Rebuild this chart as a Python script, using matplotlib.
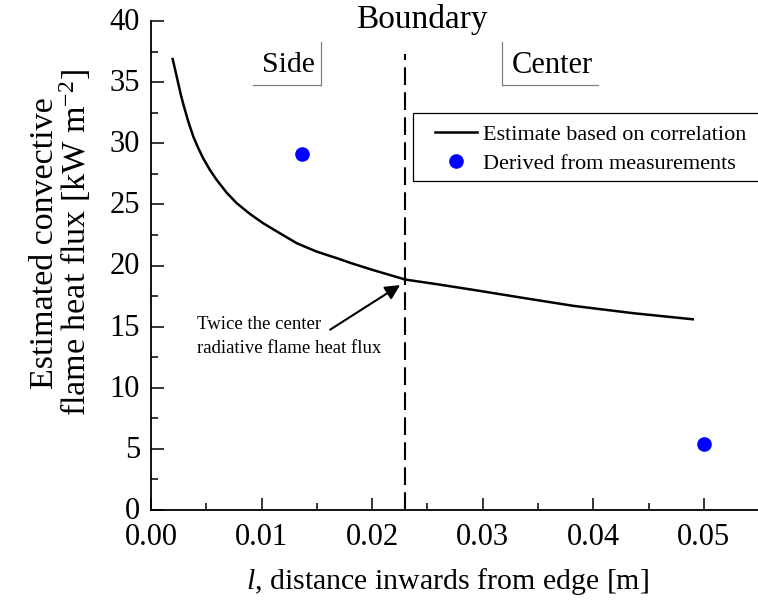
import numpy as np
import matplotlib
matplotlib.use("Agg")
import matplotlib.pyplot as plt
import matplotlib.transforms as mtransforms
from matplotlib.ticker import MultipleLocator
from matplotlib.lines import Line2D
from matplotlib.patches import Rectangle

plt.rcParams['font.family'] = ['Liberation Serif', 'DejaVu Serif']
plt.rcParams['mathtext.fontset'] = 'custom'
plt.rcParams['mathtext.rm'] = 'Liberation Serif'
plt.rcParams['mathtext.it'] = 'Liberation Serif:italic'

# estimate based on correlation
corr_l = [0.00196, 0.00233, 0.00269, 0.00292, 0.00338, 0.00383, 0.00428, 0.00473,
          0.00534, 0.00595, 0.00685, 0.00776, 0.00896, 0.01016, 0.01167, 0.01319,
          0.01500, 0.01681, 0.01801, 0.0200, 0.0230, 0.0260, 0.0292, 0.0340,
          0.0382, 0.0436, 0.0490]
corr_q = [36.89, 35.44, 34.00, 33.20, 31.75, 30.54, 29.59, 28.75,
          27.80, 26.99, 25.95, 25.09, 24.21, 23.45, 22.63, 21.82,
          21.13, 20.60, 20.22, 19.65, 18.85, 18.45, 18.00, 17.30,
          16.70, 16.10, 15.60]

# derived from measurements
meas_l = [0.01364, 0.0500]
meas_q = [29.1, 5.4]

boundary_l = 0.023

fig = plt.figure(figsize=(7.58, 6.01), dpi=100)
ax = fig.add_axes([151 / 758, 91 / 601, 1 - 151 / 758, 489 / 601])

ax.plot(corr_l, corr_q, color='black', lw=1.8, label='Estimate based on correlation')
ax.plot(meas_l, meas_q, 'o', color='blue', ms=9.5, label='Derived from measurements')
ax.plot([boundary_l, boundary_l], [0, 37.3], color='black', lw=1.5, dashes=(8.5, 3.5))

ax.set_xlim(0, 0.0549)
ax.set_ylim(0, 40)
ax.xaxis.set_major_locator(MultipleLocator(0.01))
ax.xaxis.set_minor_locator(MultipleLocator(0.005))
ax.yaxis.set_major_locator(MultipleLocator(5))
ax.yaxis.set_minor_locator(MultipleLocator(2.5))
ax.xaxis.set_major_formatter(lambda v, p: f'{v:.2f}')
ax.tick_params(which='both', direction='in', width=1.1, labelsize=22)
ax.tick_params(which='major', length=9)
ax.tick_params(which='minor', length=5)
ax.tick_params(axis='y', which='major', pad=8)
ax.tick_params(axis='x', which='major', pad=9.5)
for s in ['top', 'right']:
    ax.spines[s].set_visible(False)
for s in ['left', 'bottom']:
    ax.spines[s].set_linewidth(1.3)

# y tick labels sit a touch above their ticks, as in the original
shift = mtransforms.ScaledTranslation(0, 2 / 100, fig.dpi_scale_trans)
for lab in ax.get_yticklabels():
    lab.set_transform(lab.get_transform() + shift)

ax.set_xlabel('$l$, distance inwards from edge [m]', fontsize=21.5, labelpad=10)
ax.xaxis.label.set_x(0.4885)
ax.set_ylabel('Estimated convective\nflame heat flux [kW m$^{-2}$]', fontsize=24.5,
              va='center', linespacing=0.9)
ax.yaxis.set_label_coords((61 - 151) / 607, (510 - 243) / 489)

ax.text(0.02452, 40.1, 'Boundary', ha='center', va='center', fontsize=24, clip_on=False)
ax.text(0.0124, 36.4, 'Side', ha='center', va='center', fontsize=21.5)
ax.text(0.0363, 36.4, 'Center', ha='center', va='center', fontsize=22)

# partial frames round Side / Center
gray = '#808080'
fig.add_artist(Line2D([320.7 / 758, 320.7 / 758], [1 - 42 / 601, 1 - 85 / 601], color=gray, lw=0.9))
fig.add_artist(Line2D([253 / 758, 320.7 / 758], [1 - 85 / 601, 1 - 85 / 601], color=gray, lw=0.9))
fig.add_artist(Line2D([501.7 / 758, 501.7 / 758], [1 - 42 / 601, 1 - 85 / 601], color=gray, lw=0.9))
fig.add_artist(Line2D([501.7 / 758, 598 / 758], [1 - 85 / 601, 1 - 85 / 601], color=gray, lw=0.9))

ax.text(0.00416, 14.2, 'Twice the center\nradiative flame heat flux', fontsize=13.5,
        ha='left', va='center', linespacing=1.55)
ax.annotate('', xy=(0.02253, 18.4), xytext=(0.0162, 14.75),
            arrowprops=dict(arrowstyle='-|>', color='black', lw=1.5, mutation_scale=22,
                            shrinkA=0, shrinkB=0))

# legend box reaches past the right edge of the figure
fig.add_artist(Rectangle((413 / 758, 1 - 181 / 601), 400 / 758, 68 / 601,
                         transform=fig.transFigure, fill=False, ec='black', lw=0.9))
leg = ax.legend(loc='upper left', bbox_to_anchor=(435 / 758, 1 - 124 / 601),
                bbox_transform=fig.transFigure, borderaxespad=0, borderpad=0,
                fontsize=16, frameon=False, handlelength=1.9,
                handletextpad=0.25, labelspacing=0.38)

fig.savefig('out.png', dpi=100)
